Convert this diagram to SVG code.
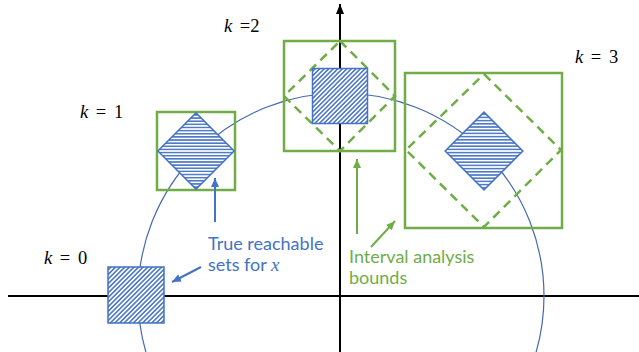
<svg xmlns="http://www.w3.org/2000/svg" xmlns:xlink="http://www.w3.org/1999/xlink" width="639" height="352" viewBox="0 0 639 352">
  <style>
    .axis { stroke: #000; stroke-width: 2; fill: none; }
    .orbit { stroke: #4468B0; stroke-width: 1.2; fill: none; }
    .bound { stroke: #70AD47; stroke-width: 2.5; fill: none; }
    .bound-dash { stroke: #70AD47; stroke-width: 2.5; fill: none; stroke-dasharray: 9 6; }
    .set { fill: url(#hatch); stroke: #4472C4; stroke-width: 1.5; }
    .arrow-blue { stroke: #4472C4; stroke-width: 2; fill: none; marker-end: url(#head-blue); }
    .arrow-green { stroke: #70AD47; stroke-width: 2; fill: none; marker-end: url(#head-green); }
    .klabel { font-family: "Liberation Serif", "DejaVu Serif", serif; font-size: 18.5px; fill: #000; word-spacing: 3px; }
    .kvar { font-style: italic; }
    .note { font-family: Lato, "Liberation Sans", sans-serif; font-size: 18px; }
    .note-blue { fill: #4472C4; }
    .note-green { fill: #70AD47; }
  </style>
  <defs>
    <pattern id="hatch" patternUnits="userSpaceOnUse" width="3.2" height="3.2" patternTransform="rotate(-45)">
      <rect width="3.2" height="3.2" fill="#fff"/>
      <line x1="0" y1="1.6" x2="3.2" y2="1.6" stroke="#4472C4" stroke-width="1.5"/>
    </pattern>
    <rect id="sq" x="-27.5" y="-27.5" width="55" height="55" class="set"/>
    <marker id="head-blue" markerUnits="userSpaceOnUse" markerWidth="9" markerHeight="8" refX="9" refY="4" orient="auto">
      <path d="M0,0 L9,4 L0,8 z" fill="#4472C4"/>
    </marker>
    <marker id="head-green" markerUnits="userSpaceOnUse" markerWidth="9" markerHeight="8" refX="9" refY="4" orient="auto">
      <path d="M0,0 L9,4 L0,8 z" fill="#70AD47"/>
    </marker>
    <marker id="head-black" markerUnits="userSpaceOnUse" markerWidth="10" markerHeight="8" refX="10" refY="4" orient="auto">
      <path d="M0,0 L10,4 L0,8 z" fill="#000"/>
    </marker>
  </defs>

  <!-- coordinate axes -->
  <g id="axes">
    <line class="axis" x1="8" y1="296" x2="639" y2="296"/>
    <line class="axis" x1="340" y1="352" x2="340" y2="4" style="marker-end:url(#head-black)"/>
  </g>

  <!-- trajectory circle -->
  <circle id="orbit" class="orbit" cx="341" cy="296" r="203"/>

  <!-- k = 0 -->
  <g id="step0">
    <use xlink:href="#sq" transform="translate(136,295) scale(1.018)"/>
    <text class="klabel" x="44" y="264"><tspan class="kvar">k</tspan> = 0</text>
  </g>

  <!-- k = 1 -->
  <g id="step1">
    <rect class="bound" x="157" y="112" width="78" height="78"/>
    <use xlink:href="#sq" transform="translate(196,151) rotate(45) scale(0.98)"/>
    <text class="klabel" x="80" y="118"><tspan class="kvar">k</tspan> = 1</text>
  </g>

  <!-- k = 2 -->
  <g id="step2">
    <rect class="bound" x="284" y="41" width="111" height="110"/>
    <path class="bound-dash" d="M340,41 L395,96 L340,151 L284,96 Z"/>
    <use xlink:href="#sq" transform="translate(340,96)"/>
    <text class="klabel" x="224" y="32"><tspan class="kvar">k</tspan> =2</text>
  </g>

  <!-- k = 3 -->
  <g id="step3">
    <rect class="bound" x="405" y="73" width="157" height="155"/>
    <path class="bound-dash" d="M484,74 L561,150 L484,227 L406,150 Z"/>
    <use xlink:href="#sq" transform="translate(484,151) rotate(45)"/>
    <text class="klabel" x="575" y="63"><tspan class="kvar">k</tspan> = 3</text>
  </g>

  <!-- annotation arrows -->
  <g id="connectors">
    <line class="arrow-blue" x1="215" y1="222" x2="215" y2="178"/>
    <line class="arrow-blue" x1="201" y1="267" x2="172" y2="282"/>
    <line class="arrow-green" x1="357" y1="234" x2="357" y2="159"/>
    <line class="arrow-green" x1="371" y1="247" x2="395" y2="221"/>
  </g>

  <!-- annotations -->
  <g id="label-true">
    <text class="note note-blue" x="208" y="250">True reachable</text>
    <text class="note note-blue" x="208" y="271">sets for <tspan font-family="'Liberation Serif', serif" font-style="italic" font-size="19px">x</tspan></text>
  </g>
  <g id="label-interval">
    <text class="note note-green" x="349" y="263">Interval analysis</text>
    <text class="note note-green" x="349" y="284">bounds</text>
  </g>
</svg>
